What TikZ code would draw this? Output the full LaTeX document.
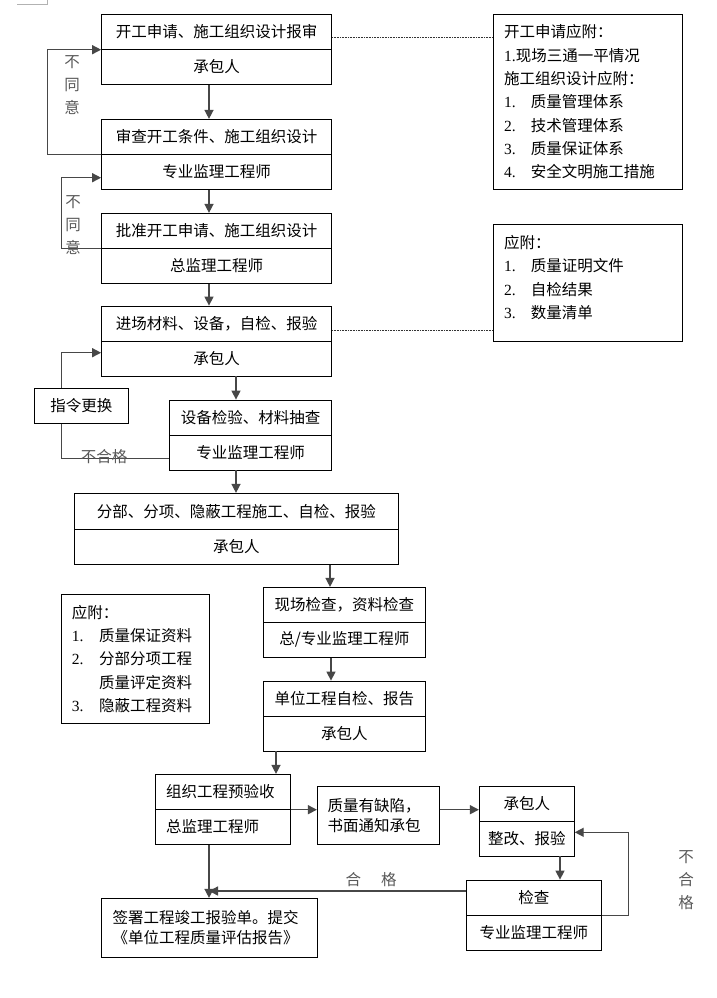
\documentclass[tikz,border=0pt]{standalone}
\usepackage{fontspec}
\setmainfont{Noto Sans CJK SC}
\newfontfamily\latin{Liberation Serif}
\usetikzlibrary{arrows.meta,calc}

\newcommand\mkcell[6]{%
  \pgfmathsetmacro\myW{#4-#2}\pgfmathsetmacro\myH{#5-#3}%
  \pgfmathsetmacro\myX{(#2+#4)/2}\pgfmathsetmacro\myY{(#3+#5)/2}%
  \node[cell, minimum width=\myW pt, minimum height=\myH pt] (#1) at (\myX,\myY) {#6};}
\newcommand\mkleft[7]{%
  \pgfmathsetmacro\myW{#4-#2}\pgfmathsetmacro\myH{#5-#3}%
  \pgfmathsetmacro\myX{(#2+#4)/2}\pgfmathsetmacro\myY{(#3+#5)/2}%
  \pgfmathsetmacro\myT{#4-#2-2*#6}%
  \node[cell, minimum width=\myW pt, minimum height=\myH pt, inner xsep=#6pt, text width=\myT pt, align=left] (#1) at (\myX,\myY) {#7};}
\newcommand\nitemA[1]{\makebox[26.7pt][l]{\latin #1}}
\newcommand\nitemB[1]{\makebox[27.3pt][l]{\latin #1}}

\tikzset{
  cell/.style={draw, line width=0.8pt, inner sep=0pt, font=\fontsize{15.5}{20}\selectfont},
  arr/.style={draw=black!72, line width=1.4pt, -{Triangle[length=9pt,width=9pt]}},
  ln/.style={draw=black!72, line width=1.4pt},
  dots/.style={draw=black!80, line width=0.6pt, dash pattern=on 0.7pt off 0.9pt},
  lbl/.style={font=\fontsize{15.5}{23}\selectfont, text=black!65, inner sep=0pt, align=center},
  note/.style={font=\fontsize{15.5}{23.3}\selectfont, inner sep=0pt, align=left, anchor=west},
}

\begin{document}
\begin{tikzpicture}[x=1pt,y=-1pt]
\useasboundingbox (0,0) rectangle (716,998);
\fill[white] (0,0) rectangle (716,998);
\draw[black!30, line width=0.6pt] (17,4) -- (47,4) -- (47,0);

% main chain
\mkcell{A1}{101.5}{14.3}{331.5}{49.3}{开工申请、施工组织设计报审}
\mkcell{A2}{101.5}{49.3}{331.5}{84.3}{承包人}
\mkcell{B1}{101.5}{119.3}{331.5}{154.3}{审查开工条件、施工组织设计}
\mkcell{B2}{101.5}{154.3}{331.5}{189.3}{专业监理工程师}
\mkcell{C1}{101.5}{213.3}{331.5}{248.3}{批准开工申请、施工组织设计}
\mkcell{C2}{101.5}{248.3}{331.5}{283.3}{总监理工程师}
\mkcell{D1}{101.5}{306}{331.5}{341.3}{进场材料、设备，自检、报验}
\mkcell{D2}{101.5}{341.3}{331.5}{376}{承包人}
\mkcell{E1}{169.5}{400}{331.5}{435.3}{设备检验、材料抽查}
\mkcell{E2}{169.5}{435.3}{331.5}{470}{专业监理工程师}
\mkcell{cmd}{34.3}{388.3}{128.3}{423.3}{指令更换}
\mkcell{F1}{74.5}{493.3}{398.3}{529}{分部、分项、隐蔽工程施工、自检、报验}
\mkcell{F2}{74.5}{529}{398.3}{564.3}{承包人}
\mkcell{G1}{263.3}{587.3}{425.5}{622.3}{现场检查，资料检查}
\mkcell{G2}{263.3}{622.3}{425.5}{657.3}{总/专业监理工程师}
\mkcell{H1}{263.3}{681}{425.5}{716}{单位工程自检、报告}
\mkcell{H2}{263.3}{716}{425.5}{751}{承包人}
\mkleft{I1}{155.5}{774.3}{290.5}{809.3}{10.5}{组织工程预验收}
\mkleft{I2}{155.5}{809.3}{290.5}{844.3}{10.5}{总监理工程师}
\mkleft{J}{317.3}{786}{439.3}{844.3}{10.4}{质量有缺陷，\\书面通知承包}
\mkcell{K1}{479.3}{786}{574.3}{821}{承包人}
\mkcell{K2}{479.3}{821}{574.3}{856}{整改、报验}
\mkcell{M1}{466}{880}{601.7}{915}{检查}
\mkcell{M2}{466}{915}{601.7}{950}{专业监理工程师}
\mkleft{L}{101.7}{898.3}{317.3}{957.3}{11}{签署工程竣工报验单。提交\\《单位工程质量评估报告》}

% note boxes
\mkcell{N1}{493.3}{14.3}{682.3}{189.3}{}
\node[note] (N1t) at (504,102) {开工申请应附：\\{\latin 1.}现场三通一平情况\\施工组织设计应附：\\\nitemA{1.}质量管理体系\\\nitemA{2.}技术管理体系\\\nitemA{3.}质量保证体系\\\nitemA{4.}安全文明施工措施};
\mkcell{N2}{493.3}{224.3}{682.3}{341}{}
\node[note] (N2t) at (504,277.5) {应附：\\\nitemA{1.}质量证明文件\\\nitemA{2.}自检结果\\\nitemA{3.}数量清单};
\mkcell{N3}{61.7}{594.3}{209.3}{723.3}{}
\node[note] (N3t) at (71.7,658.8) {应附：\\\nitemB{1.}质量保证资料\\\nitemB{2.}分部分项工程\\\hspace*{27.3pt}质量评定资料\\\nitemB{3.}隐蔽工程资料};

% dotted links
\coordinate (d1) at (0,37.3);
\coordinate (d2) at (0,330.7);
\draw[dots] (A1.east |- d1) -- (N1.west |- d1);
\draw[dots] (D1.east |- d2) -- (N2.west |- d2);

% vertical arrows
\coordinate (x209) at (209,0);
\coordinate (x236) at (236,0);
\coordinate (x330) at (330,0);
\coordinate (x331) at (331,0);
\coordinate (x276) at (276,0);
\coordinate (x560) at (560,0);
\draw[arr] (A2.south -| x209) -- (B1.north -| x209);
\draw[arr] (B2.south -| x209) -- (C1.north -| x209);
\draw[arr] (C2.south -| x209) -- (D1.north -| x209);
\draw[arr] (D2.south -| x236) -- (E1.north -| x236);
\draw[arr] (E2.south -| x236) -- (F1.north -| x236);
\draw[arr] (F2.south -| x330) -- (G1.north -| x330);
\draw[arr] (G2.south -| x331) -- (H1.north -| x331);
\draw[arr] (H2.south -| x276) -- (I1.north -| x276);
\draw[arr] (I2.south -| x209) -- (L.north -| x209);
\draw[arr] (K2.south -| x560) -- (M1.north -| x560);

% horizontal arrows
\draw[arr] (I1.south east) -- (I1.south east -| J.west);
\draw[arr] (J.east |- I1.south east) -- (K1.west |- I1.south east);
\coordinate (mr) at (628.3,832.3);
\draw[arr] (M1.south east) -| (mr) -- (mr -| K2.east);
\coordinate (hj) at (209,891);
\draw[arr] (M1.west |- hj) -- (hj);

% loops
\coordinate (l1) at (47.7,0);
\draw[arr] (B1.south west) -- (B1.south west -| l1) |- (A1.south west);
\coordinate (l2) at (61.7,177.7);
\draw[arr] (C1.south west) -| (l2) -- (l2 -| B2.west);
\coordinate (l3b) at (61.7,458.3);
\coordinate (l3t) at (61.7,352.7);
\draw[ln] (E2.west |- l3b) -- (l3b) -- (l3b |- cmd.south);
\draw[arr] (l3t |- cmd.north) -- (l3t) -- (l3t -| D2.west);

% labels
\node[lbl] (t1) at (72,85) {不\\同\\意};
\node[lbl] (t2) at (73,225) {不\\同\\意};
\node[lbl] (t3) at (104,457) {不合格};
\node[lbl] (t4) at (371,879.3) {合\hspace{20pt}格};
\node[lbl] (t5) at (686,880) {不\\合\\格};
\end{tikzpicture}
\end{document}
